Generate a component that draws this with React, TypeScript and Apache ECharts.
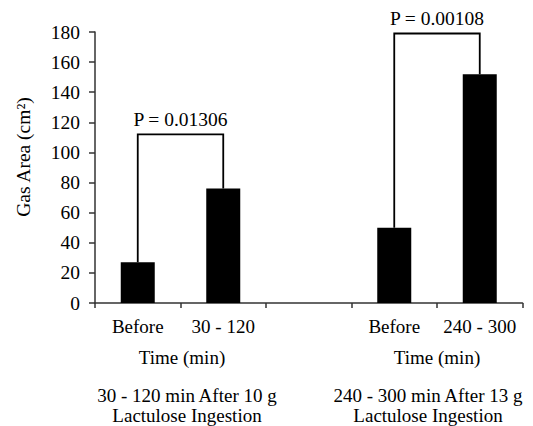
import React, { useEffect, useRef } from "react";
import * as echarts from "echarts";

const categories = ["Before", "30 - 120", "", "Before", "240 - 300"];
const gasArea: (number | string)[] = [27, 76, "-", 50, 152];
const yTicks = { min: 0, max: 180, interval: 20 };
const yAxisTitle = "Gas Area (cm²)";

// brackets: left category index, right category index, bracket height, label
const bracketLeft = [0, 3];
const bracketRight = [1, 4];
const bracketHeight = [112, 179];
const bracketLabels = ["P = 0.01306", "P = 0.00108"];

const groupAxisTitles = ["Time (min)", "Time (min)"];
const groupCaptionLine1 = ["30 - 120 min After 10 g", "240 - 300 min After 13 g"];
const groupCaptionLine2 = ["Lactulose Ingestion", "Lactulose Ingestion"];

const FONT = "'Liberation Serif', 'Times New Roman', serif";

export default function App() {
  const ref = useRef<HTMLDivElement>(null);
  useEffect(() => {
    document.body.style.margin = "0";
    if (!ref.current) return;
    const chart = echarts.init(ref.current, undefined, { renderer: "svg" });

    const bracketData = bracketLeft.map((l, i) => [
      l,
      bracketRight[i],
      bracketHeight[i],
      Number(gasArea[l]),
      Number(gasArea[bracketRight[i]]),
    ]);

    const textStyle = { fontFamily: FONT, fontSize: 19, fill: "#000" };
    const groupX = [182, 437];
    const captionX = [187, 428];
    const graphics: any[] = [
      {
        type: "text",
        x: 23,
        y: 157,
        rotation: Math.PI / 2,
        style: { ...textStyle, fontSize: 19.5, text: yAxisTitle, align: "center", verticalAlign: "middle" },
      },
    ];
    groupAxisTitles.forEach((t, i) => {
      graphics.push({
        type: "text",
        x: groupX[i],
        y: 357,
        style: { ...textStyle, text: t, align: "center", verticalAlign: "middle" },
      });
      graphics.push({
        type: "text",
        x: captionX[i],
        y: 395,
        style: { ...textStyle, text: groupCaptionLine1[i], align: "center", verticalAlign: "middle" },
      });
      graphics.push({
        type: "text",
        x: captionX[i],
        y: 415,
        style: { ...textStyle, text: groupCaptionLine2[i], align: "center", verticalAlign: "middle" },
      });
    });

    chart.setOption({
      animation: false,
      backgroundColor: "#fff",
      grid: { left: 95, right: 10.5, top: 32, bottom: 123, containLabel: false },
      xAxis: {
        type: "category",
        data: categories,
        axisLine: { show: true, lineStyle: { color: "#333", width: 1.5 } },
        axisTick: { show: true, alignWithLabel: false, length: 5, lineStyle: { color: "#333", width: 1.5 } },
        axisLabel: { color: "#000", fontFamily: FONT, fontSize: 19, margin: 14, interval: 0 },
        splitLine: { show: false },
      },
      yAxis: {
        type: "value",
        min: yTicks.min,
        max: yTicks.max,
        interval: yTicks.interval,
        axisLine: { show: true, lineStyle: { color: "#333", width: 1.5 } },
        axisTick: { show: true, length: 6, lineStyle: { color: "#333", width: 1.5 } },
        axisLabel: { color: "#000", fontFamily: FONT, fontSize: 19.5, margin: 15 },
        splitLine: { show: false },
      },
      series: [
        {
          type: "bar",
          data: gasArea,
          barWidth: 34,
          itemStyle: { color: "#000" },
        },
        {
          type: "custom",
          data: bracketData,
          encode: { x: 0, y: 2 },
          clip: false,
          z: 5,
          renderItem: (params: any, api: any) => {
            const l = api.value(0);
            const r = api.value(1);
            const h = api.value(2);
            const lv = api.value(3);
            const rv = api.value(4);
            const p1 = api.coord([l, lv]);
            const p2 = api.coord([l, h]);
            const p3 = api.coord([r, h]);
            const p4 = api.coord([r, rv]);
            return {
              type: "group",
              children: [
                {
                  type: "polyline",
                  shape: { points: [p1, p2, p3, p4] },
                  style: { stroke: "#000", lineWidth: 1.8, fill: null },
                },
                {
                  type: "text",
                  x: (p2[0] + p3[0]) / 2,
                  y: p2[1] - 15,
                  style: {
                    text: bracketLabels[params.dataIndex],
                    fontFamily: FONT,
                    fontSize: 19.5,
                    fill: "#000",
                    align: "center",
                    verticalAlign: "middle",
                  },
                },
              ],
            };
          },
        },
      ],
      graphic: graphics,
    });
    return () => chart.dispose();
  }, []);
  return (
    <div
      ref={ref}
      style={{ width: 533, height: 426, position: "absolute", left: 0, top: 0 }}
    />
  );
}
